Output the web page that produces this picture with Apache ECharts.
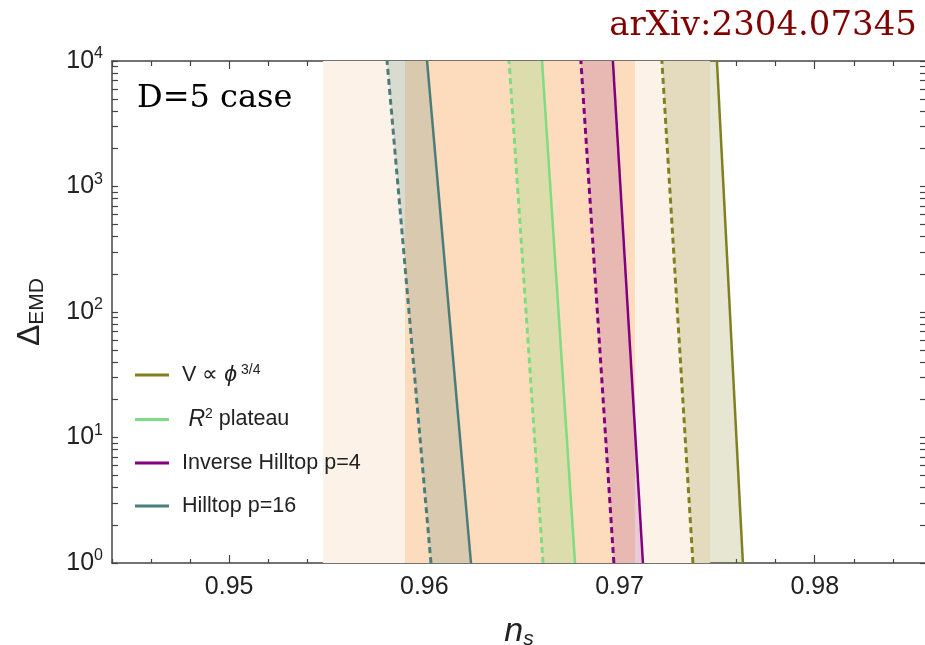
<!DOCTYPE html>
<html>
<head>
<meta charset="utf-8">
<script src="https://cdn.jsdelivr.net/npm/echarts@6/dist/echarts.min.js"></script>
<style>html,body{margin:0;padding:0;background:#fff}#c{width:925px;height:645px}</style>
</head>
<body>
<div id="c"></div>
<script>
// ---- data ----
const modelNames = ['V ∝ ϕ^{3/4}', 'R² plateau', 'Inverse Hilltop p=4', 'Hilltop p=16'];
const deltaEnds = [1, 10000];                       // Δ_EMD at bottom / top of each line
const dashedAtBottom = [0.97376, 0.96608, 0.96971, 0.96034]; // n_s at Δ=1
const dashedAtTop    = [0.97217, 0.96434, 0.96802, 0.95809]; // n_s at Δ=10^4
const solidAtBottom  = [0.97632, 0.96772, 0.97120, 0.96239];
const solidAtTop     = [0.97499, 0.96603, 0.96966, 0.96014];
const bandLow  = [0.95481, 0.95901];   // Planck bands: 2σ (light), 1σ (orange)
const bandHigh = [0.97464, 0.97079];
const xMajorTicks = [0.95, 0.96, 0.97, 0.98];
const xMinorTicks = [0.944, 0.946, 0.948, 0.952, 0.954, 0.956, 0.958, 0.962, 0.964, 0.966, 0.968,
                     0.972, 0.974, 0.976, 0.978, 0.982, 0.984];
const yMajorTicks = [1, 10, 100, 1000, 10000];
const yMinorTicks = [2,3,4,5,6,7,8,9,20,30,40,50,60,70,80,90,200,300,400,500,600,700,800,900,
                     2000,3000,4000,5000,6000,7000,8000,9000];

// ---- styles ----
const xMin = 0.944, xMax = 0.9857, yMin = 1, yMax = 10000;
const lineColors = ['#808020', '#80dc80', '#800080', '#4a7d7a'];
const fillColors = ['rgba(128,128,32,0.2)', 'rgba(128,220,128,0.25)', 'rgba(128,0,128,0.16)', 'rgba(74,125,122,0.2)'];
const bandColors = ['#fdf2e7', '#fcdcbd'];
const axisColor = '#444';
const sans = 'Liberation Sans';
const legendLabels = [
  '{g| }{t|V ∝ }{i|ϕ}{u| 3/4}',
  '{g| }{i| R}{u|2}{t| plateau}',
  '{g| }{t|Inverse Hilltop p=4}',
  '{g| }{t|Hilltop p=16}'
];

const chart = echarts.init(document.getElementById('c'), null, {renderer: 'canvas'});

function xAxisDef(pos, ticks, len, labels) {
  return {
    type: 'value', min: xMin, max: xMax, position: pos,
    axisLine: {show: labels, lineStyle: {color: axisColor, width: 1.5}},
    axisTick: {show: true, inside: true, length: len, customValues: ticks, lineStyle: {color: axisColor, width: 1.2}},
    axisLabel: {show: labels && pos === 'bottom', customValues: xMajorTicks, margin: 12,
      formatter: v => v.toFixed(2), fontFamily: sans, fontSize: 25, color: '#222'},
    splitLine: {show: false},
    name: (labels && pos === 'bottom') ? '{n|n}{s|s}' : '',
    nameLocation: 'middle', nameGap: 51,
    nameTextStyle: {rich: {
      n: {fontFamily: sans, fontStyle: 'italic', fontSize: 34, color: '#222', lineHeight: 36},
      s: {fontFamily: sans, fontStyle: 'italic', fontSize: 21, color: '#222', verticalAlign: 'bottom'}
    }}
  };
}
function yAxisDef(pos, labels) {
  return {
    type: 'log', logBase: 10, min: yMin, max: yMax, position: pos,
    axisLine: {show: labels, lineStyle: {color: axisColor, width: 1.5}},
    axisTick: {show: true, inside: true, length: 6, customValues: yMajorTicks.concat(yMinorTicks),
      lineStyle: {color: axisColor, width: 1.2}},
    axisLabel: {show: labels, customValues: yMajorTicks, margin: 9,
      formatter: v => '{b|10}{s|' + Math.round(Math.log10(v)) + '}',
      rich: {
        b: {fontFamily: sans, fontSize: 25, color: '#222', lineHeight: 30},
        s: {fontFamily: sans, fontSize: 16, color: '#222', verticalAlign: 'top'}
      }},
    splitLine: {show: false},
    name: labels ? '{d|Δ}{s|EMD}' : '',
    nameLocation: 'middle', nameRotate: 90, nameGap: 64,
    nameTextStyle: {rich: {
      d: {fontFamily: sans, fontSize: 32, color: '#222', lineHeight: 36},
      s: {fontFamily: sans, fontSize: 21, color: '#222', verticalAlign: 'bottom'}
    }}
  };
}

const series = [];
// Planck bands
series.push({
  type: 'custom', name: 'bands', z: 1, silent: true,
  encode: {x: [0, 1]},
  data: bandLow.map((lo, i) => [lo, bandHigh[i]]),
  renderItem(params, api) {
    const p0 = api.coord([api.value(0), yMax]);
    const p1 = api.coord([api.value(1), yMin]);
    return {type: 'rect', shape: {x: p0[0], y: p0[1], width: p1[0] - p0[0], height: p1[1] - p0[1]},
      style: {fill: bandColors[params.dataIndex]}};
  }
});
// model fills between dashed and solid lines
series.push({
  type: 'custom', name: 'fills', z: 2, silent: true,
  encode: {x: [0, 1, 2, 3]},
  data: modelNames.map((n, i) => [dashedAtBottom[i], dashedAtTop[i], solidAtTop[i], solidAtBottom[i]]),
  renderItem(params, api) {
    const pts = [
      api.coord([api.value(0), deltaEnds[0]]),
      api.coord([api.value(1), deltaEnds[1]]),
      api.coord([api.value(2), deltaEnds[1]]),
      api.coord([api.value(3), deltaEnds[0]])
    ];
    return {type: 'polygon', shape: {points: pts}, style: {fill: fillColors[params.dataIndex]}};
  }
});
modelNames.forEach((name, i) => {
  series.push({
    type: 'line', name: name + ' (dashed)', z: 3, symbol: 'none', silent: true,
    data: [[dashedAtBottom[i], deltaEnds[0]], [dashedAtTop[i], deltaEnds[1]]],
    lineStyle: {color: lineColors[i], width: 3, type: [6, 4]}, itemStyle: {color: lineColors[i]}
  });
  series.push({
    type: 'line', name: name, z: 3, symbol: 'none', silent: true,
    data: [[solidAtBottom[i], deltaEnds[0]], [solidAtTop[i], deltaEnds[1]]],
    lineStyle: {color: lineColors[i], width: 2.5}, itemStyle: {color: lineColors[i]}
  });
});

chart.setOption({
  animation: false,
  backgroundColor: '#fff',
  title: [
    {text: 'arXiv:2304.07345', right: 3, top: 4,
      textStyle: {fontFamily: 'DejaVu Serif', fontSize: 34, fontWeight: 'normal', color: '#800000'}},
    {text: 'D=5 case', left: 132, top: 78,
      textStyle: {fontFamily: 'DejaVu Serif', fontSize: 32, fontWeight: 'normal', color: '#000'}}
  ],
  grid: {left: 112, top: 61, width: 814, height: 502, containLabel: false, outerBoundsMode: 'none'},
  xAxis: [
    xAxisDef('bottom', xMajorTicks, 8, true),
    xAxisDef('bottom', xMinorTicks, 4, false),
    xAxisDef('top', xMajorTicks, 8, true),
    xAxisDef('top', xMinorTicks, 5, false)
  ],
  yAxis: [yAxisDef('left', true), yAxisDef('right', false)],
  legend: {
    data: modelNames.map(n => ({name: n, icon: 'rect'})), orient: 'vertical', left: 130, top: 358,
    itemWidth: 34, itemHeight: 3, itemGap: 21, selectedMode: false,
    formatter: name => legendLabels[modelNames.indexOf(name)],
    textStyle: {rich: {
      g: {width: 8},
      t: {fontFamily: sans, fontSize: 21.5, color: '#222', lineHeight: 24},
      i: {fontFamily: sans, fontStyle: 'italic', fontSize: 23, color: '#222', lineHeight: 24},
      u: {fontFamily: sans, fontSize: 14, color: '#222', verticalAlign: 'top'}
    }}
  },
  series: series
});
</script>
</body>
</html>
